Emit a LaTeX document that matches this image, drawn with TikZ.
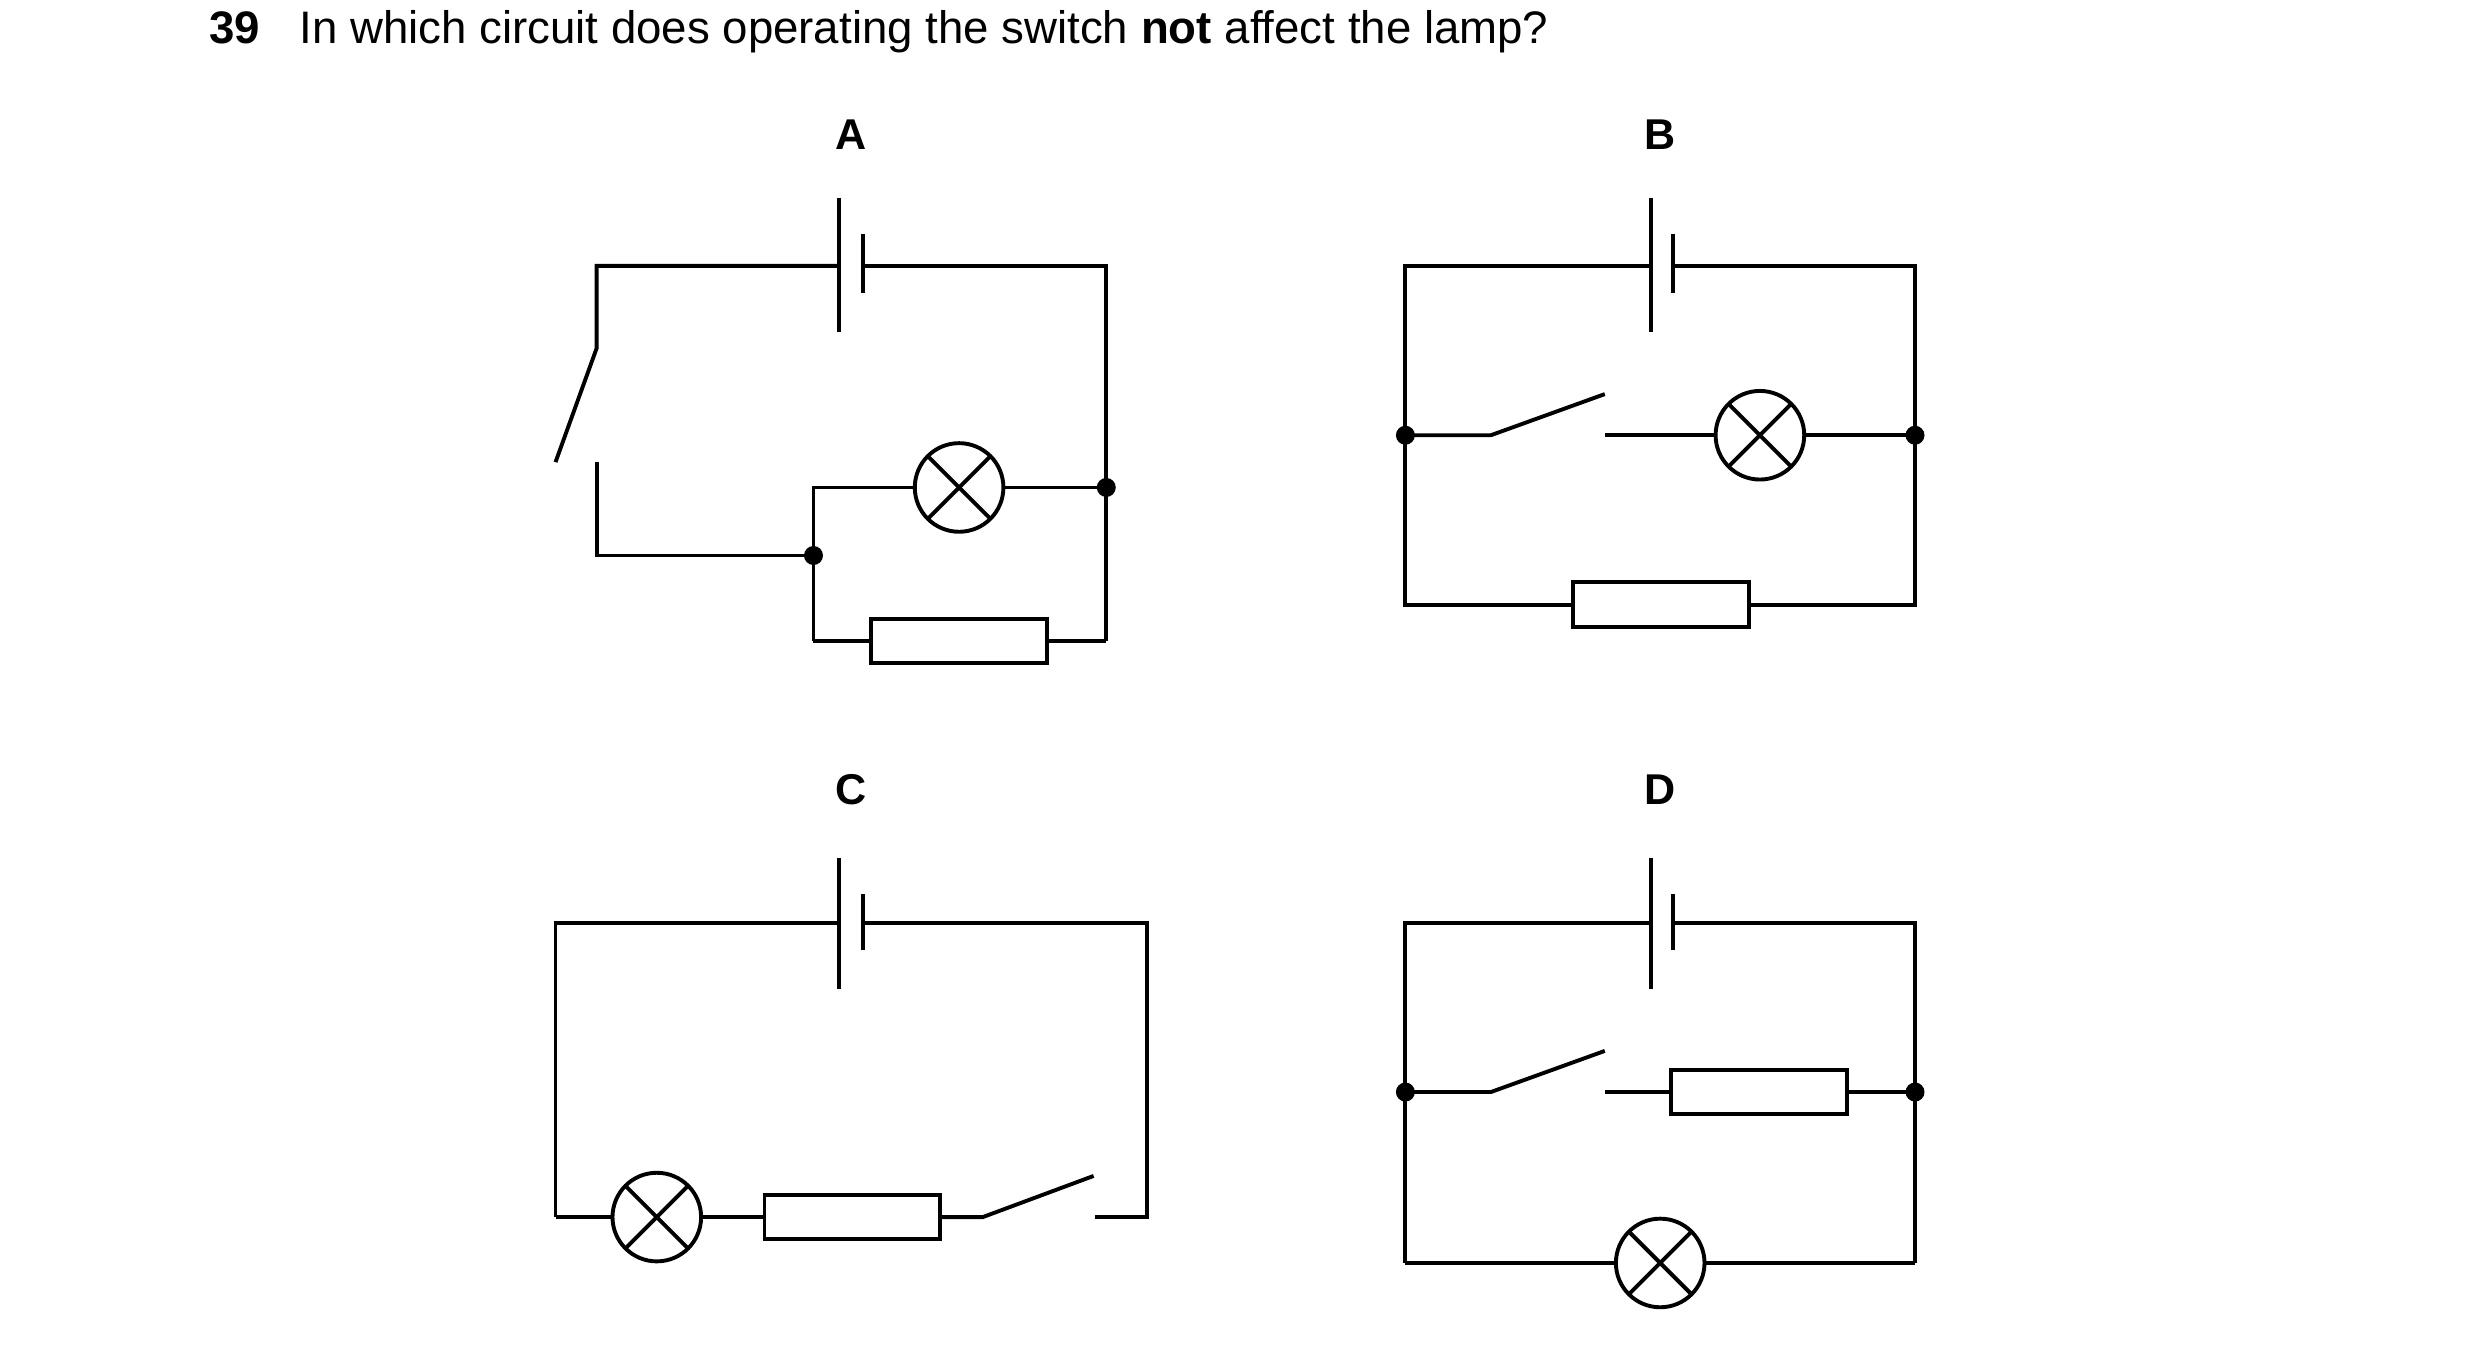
\documentclass[tikz,border=0pt]{standalone}
\usepackage{fontspec}
\setmainfont{Liberation Sans}
\begin{document}
\begin{tikzpicture}[x=0.02cm,y=-0.02cm,line width=1.4pt,
  lamp/.style={circle,draw,minimum size=1.12cm,inner sep=0pt,path picture={
    \draw (path picture bounding box.south west)++(0.16cm,0.16cm) -- ([xshift=-0.16cm,yshift=-0.16cm]path picture bounding box.north east);
    \draw ([xshift=0.16cm,yshift=-0.16cm]path picture bounding box.north west) -- ([xshift=-0.16cm,yshift=0.16cm]path picture bounding box.south east);}},
  res/.style={rectangle,draw,minimum width=2.22cm,minimum height=0.56cm,inner sep=0pt},
  dot/.style={circle,fill,inner sep=0pt,minimum size=0.24cm},
  lab/.style={font=\bfseries\fontsize{15.5}{18}\selectfont}]
\useasboundingbox (0,0) rectangle (1567,851.7);
\node[anchor=west,font=\fontsize{16.4}{19}\selectfont,inner sep=0pt] (title) at (131,20) {\textbf{39}\hspace{0.5cm}In which circuit does operating the switch \textbf{not} affect the lamp?};
\node[lab] (lA) at (538,85) {A};
\node[lab] (lB) at (1049,85) {B};
\node[lab] (lC) at (538,499) {C};
\node[lab] (lD) at (1049,499) {D};
% ---- A
\draw (530,125) -- (530,210); \draw (545,148) -- (545,185);
\draw (530,168) -- (377,168) -- (377,220) -- (351,292);
\draw (545,168) -- (699,168) -- (699,405);
\node[lamp] (LA) at (606,308) {};
\node[res] (RA) at (606,405) {};
\node[dot] (dA1) at (699,308) {};
\node[dot] (dA2) at (514,351) {};
\draw (377,292) -- (377,351) -- (dA2.center);
\draw (514,405) -- (514,308) -- (LA.west);
\draw (LA.east) -- (dA1.center);
\draw (514,405) -- (RA.west); \draw (RA.east) -- (699,405);
% ---- B
\draw (1043,125) -- (1043,210); \draw (1057,148) -- (1057,185);
\draw (1043,168) -- (888,168) -- (888,382) -- (994,382);
\draw (1057,168) -- (1210,168) -- (1210,382) -- (1105,382);
\node[res] (RB) at (1049.5,382) {};
\node[lamp] (LB) at (1112,275) {};
\node[dot] (dB1) at (888,275) {};
\node[dot] (dB2) at (1210,275) {};
\draw (dB1.center) -- (942,275) -- (1014,249);
\draw (1014,275) -- (LB.west); \draw (LB.east) -- (dB2.center);
% ---- C
\draw (530,542) -- (530,625); \draw (545,565) -- (545,600);
\draw (530,583) -- (351,583) -- (351,769);
\draw (545,583) -- (725,583) -- (725,769) -- (692,769);
\node[lamp] (LC) at (415,769) {};
\node[res] (RC) at (538.5,769) {};
\draw (351,769) -- (LC.west); \draw (LC.east) -- (RC.west);
\draw (RC.east) -- (621,769) -- (691,743);
% ---- D
\draw (1043,542) -- (1043,625); \draw (1057,565) -- (1057,600);
\draw (1043,583) -- (888,583) -- (888,798);
\draw (1057,583) -- (1210,583) -- (1210,798);
\node[lamp] (LD) at (1049,798) {};
\node[res] (RD) at (1111.5,690) {};
\node[dot] (dD1) at (888,690) {};
\node[dot] (dD2) at (1210,690) {};
\draw (888,798) -- (LD.west); \draw (LD.east) -- (1210,798);
\draw (dD1.center) -- (942,690) -- (1014,664);
\draw (1014,690) -- (RD.west); \draw (RD.east) -- (dD2.center);
\end{tikzpicture}
\end{document}
